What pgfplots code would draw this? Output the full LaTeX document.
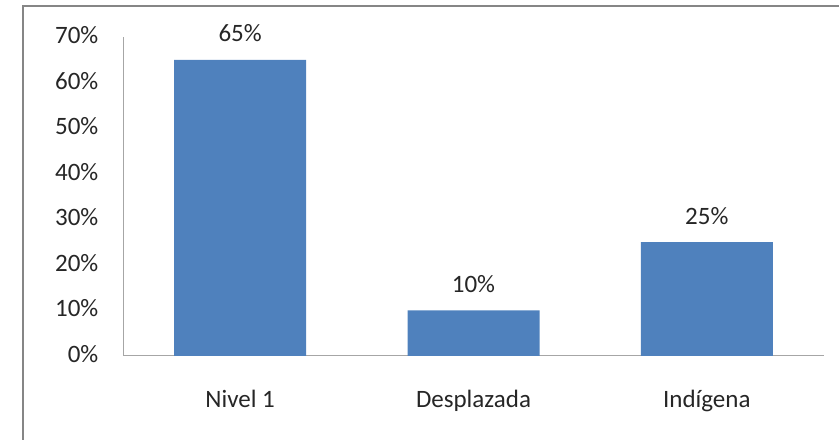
\documentclass[border=0pt]{standalone}
\usepackage{fontspec}
\setmainfont{Carlito}
\usepackage{pgfplots}
\pgfplotsset{compat=1.18}
\definecolor{barblue}{HTML}{4F81BD}
\definecolor{axgray}{HTML}{A6A6A6}
\definecolor{framegray}{HTML}{868686}
\definecolor{txt}{HTML}{262626}
\begin{document}
\begin{tikzpicture}
\path[use as bounding box] (0,0) rectangle (839bp,440bp);
% chart frame (right and bottom edges fall outside the picture)
\draw[framegray, line width=2bp] (23bp,-10bp) |- (860bp,434bp);
\begin{axis}[
    at={(123.5bp,84bp)}, anchor=south west,
    scale only axis, width=700bp, height=319bp,
    xmin=-0.5, xmax=2.5, ymin=0, ymax=70,
    /pgf/number format/assume math mode=true,
    axis lines*=left,
    axis line style={axgray, line width=1bp, -},
    major tick length=0pt,
    ytick={0,10,...,70},
    yticklabel={\pgfmathprintnumber{\tick}\%},
    yticklabel style={anchor=base east, inner sep=0pt, xshift=-25bp, yshift=-6.5bp},
    xtick=data,
    xticklabels={Nivel 1, Desplazada, Indígena},
    xticklabel style={anchor=base, inner sep=0pt, yshift=-51bp},
    ticklabel style={font=\fontsize{25bp}{30bp}\selectfont, text=txt},
    clip=false,
    ybar, bar width=132bp,
    nodes near coords={\pgfmathprintnumber{\pgfplotspointmeta}\%},
    nodes near coords style={anchor=base, inner sep=0pt, yshift=18bp,
        font=\fontsize{25bp}{30bp}\selectfont, text=txt},
]
\addplot[fill=barblue, draw=none] coordinates {(0,65) (1,10) (2,25)};
\end{axis}
\end{tikzpicture}
\end{document}
